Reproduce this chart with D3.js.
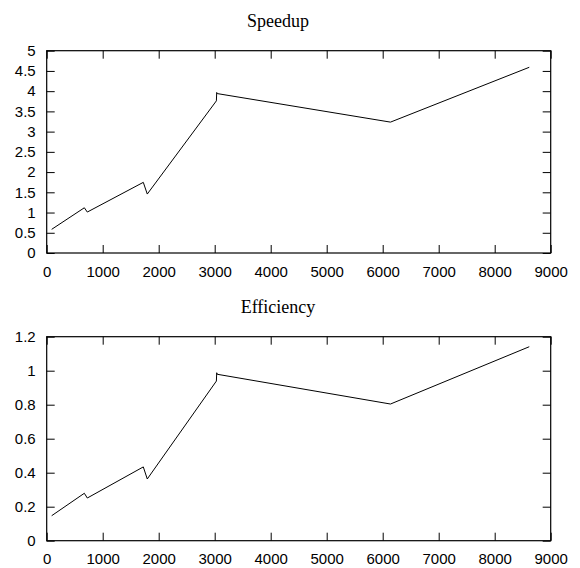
<!DOCTYPE html>
<html>
<head>
<meta charset="utf-8">
<script src="https://cdn.jsdelivr.net/npm/d3@7"></script>
<style>
  html, body { margin: 0; padding: 0; background: #fff; }
  svg { display: block; }
  .tick text { font-family: "Liberation Sans", Arial, sans-serif; font-size: 15px; fill: #000; }
  .title { font-family: "Liberation Serif", "Times New Roman", serif; font-size: 18px; fill: #000; }
</style>
</head>
<body>
<svg id="chart" width="580" height="568"></svg>
<script>
// Data
const xTicks = [0, 1000, 2000, 3000, 4000, 5000, 6000, 7000, 8000, 9000];
const speedupTicks = [0, 0.5, 1, 1.5, 2, 2.5, 3, 3.5, 4, 4.5, 5];
const efficiencyTicks = [0, 0.2, 0.4, 0.6, 0.8, 1, 1.2];

const sizes = [89, 672, 725, 1725, 1796, 3030, 3036, 3045, 6139, 8617];
const speedup = [0.585, 1.118, 1.012, 1.746, 1.457, 3.76, 3.968, 3.94, 3.235, 4.59];
const efficiency = [0.147, 0.279, 0.251, 0.434, 0.363, 0.939, 0.988, 0.979, 0.804, 1.141];

const svg = d3.select("#chart");
const left = 46.7, right = 550.7;

const panels = [
  { title: "Speedup", values: speedup, ticks: speedupTicks, yMax: 5, top: 50.7, bottom: 253, titleY: 27,
    fmt: d3.format("") },
  { title: "Efficiency", values: efficiency, ticks: efficiencyTicks, yMax: 1.2, top: 336.7, bottom: 540.7, titleY: 313,
    fmt: d3.format("") }
];

panels.forEach(p => {
  const x = d3.scaleLinear().domain([0, 9000]).range([left, right]);
  const y = d3.scaleLinear().domain([0, p.yMax]).range([p.bottom, p.top]);
  const g = svg.append("g");

  // axes with inward ticks, mirrored
  g.append("g").attr("transform", `translate(0,${p.bottom})`)
    .call(d3.axisBottom(x).tickValues(xTicks).tickSize(-8).tickPadding(13).tickFormat(d3.format("")));
  g.append("g").attr("transform", `translate(0,${p.top})`)
    .call(d3.axisTop(x).tickValues(xTicks).tickSize(-8).tickFormat(""));
  g.append("g").attr("transform", `translate(${left},0)`)
    .call(d3.axisLeft(y).tickValues(p.ticks).tickSize(-8).tickPadding(11).tickFormat(p.fmt));
  g.append("g").attr("transform", `translate(${right},0)`)
    .call(d3.axisRight(y).tickValues(p.ticks).tickSize(-8).tickFormat(""));

  g.selectAll(".domain").remove();
  g.selectAll(".tick line").attr("stroke", "#000").attr("stroke-width", 1);

  // frame
  g.append("rect")
    .attr("x", left).attr("y", p.top)
    .attr("width", right - left).attr("height", p.bottom - p.top)
    .attr("fill", "none").attr("stroke", "#000").attr("stroke-width", 1.2);

  // line
  const pts = sizes.map((s, i) => [s, p.values[i]]);
  g.append("path")
    .datum(pts)
    .attr("fill", "none").attr("stroke", "#000").attr("stroke-width", 1)
    .attr("d", d3.line().x(d => x(d[0])).y(d => y(d[1])));

  g.append("text").attr("class", "title")
    .attr("x", 278).attr("y", p.titleY).attr("text-anchor", "middle")
    .text(p.title);
});
</script>
</body>
</html>
